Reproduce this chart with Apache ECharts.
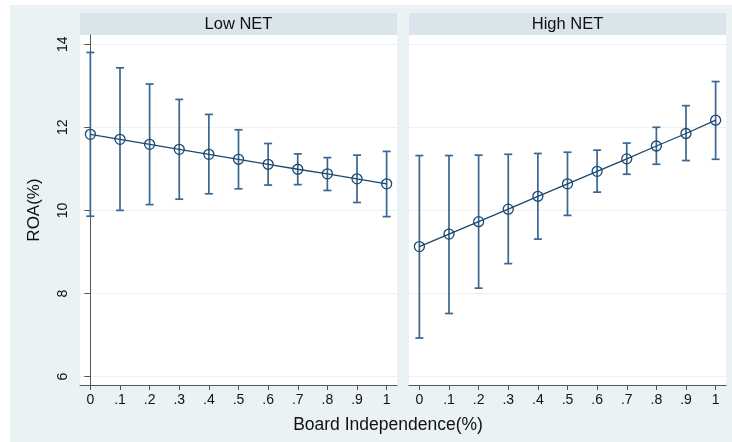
<!DOCTYPE html>
<html>
<head>
<meta charset="utf-8">
<script src="https://cdn.jsdelivr.net/npm/echarts@6/dist/echarts.min.js"></script>
<style>html,body{margin:0;padding:0;background:#fff}#c{width:732px;height:442px}</style>
</head>
<body>
<div id="c"></div>
<script>
const xVals = [0, 0.1, 0.2, 0.3, 0.4, 0.5, 0.6, 0.7, 0.8, 0.9, 1];
const xTickLabels = ['0', '.1', '.2', '.3', '.4', '.5', '.6', '.7', '.8', '.9', '1'];
const yTicks = [6, 8, 10, 12, 14];
const panelTitles = ['Low NET', 'High NET'];

const lowMean  = [11.83, 11.71, 11.59, 11.47, 11.35, 11.23, 11.11, 10.99, 10.88, 10.76, 10.64];
const lowUpper = [13.80, 13.43, 13.04, 12.67, 12.31, 11.94, 11.61, 11.36, 11.27, 11.33, 11.42];
const lowLower = [9.86, 10.00, 10.14, 10.27, 10.40, 10.52, 10.61, 10.62, 10.48, 10.19, 9.85];

const highMean  = [9.13, 9.43, 9.73, 10.03, 10.34, 10.64, 10.94, 11.24, 11.55, 11.85, 12.17];
const highUpper = [11.32, 11.32, 11.33, 11.35, 11.37, 11.40, 11.45, 11.62, 12.00, 12.52, 13.10];
const highLower = [6.93, 7.52, 8.13, 8.72, 9.31, 9.88, 10.44, 10.87, 11.11, 11.20, 11.23];

const FONT = '"Liberation Sans", Arial, Helvetica, sans-serif';
const LINE_COLOR = '#1a476f';
const BAR_COLOR = '#3a6690';
const BG = '#eaf2f3';
const STRIP = '#d9e5eb';

const chart = echarts.init(document.getElementById('c'), null, {renderer: 'canvas'});

function xAxisDef(gridIndex) {
  return {
    type: 'value', gridIndex, min: -0.035, max: 1.035,
    splitLine: {show: false},
    axisLine: {show: true, onZero: false, lineStyle: {color: '#555', width: 1}},
    axisTick: {show: true, length: 5, customValues: xVals, lineStyle: {color: '#555'}},
    axisLabel: {
      customValues: xVals, margin: 8, fontSize: 14, color: '#111', fontFamily: FONT,
      formatter: v => xTickLabels[Math.round(v * 10)]
    }
  };
}
function yAxisDef(gridIndex, showAxis) {
  return {
    type: 'value', gridIndex, min: 5.8, max: 14.22,
    name: showAxis ? 'ROA(%)' : '', nameLocation: 'middle', nameGap: 37,
    nameTextStyle: {fontSize: 17, color: '#111', fontFamily: FONT},
    splitLine: {show: true, lineStyle: {color: BG, width: 1.2}},
    axisLine: {show: showAxis, lineStyle: {color: '#555', width: 1}},
    axisTick: {show: showAxis, length: 6, customValues: yTicks, lineStyle: {color: '#555'}},
    axisLabel: {
      show: showAxis, customValues: yTicks, rotate: 90, margin: 10, fontSize: 14,
      color: '#111', fontFamily: FONT
    }
  };
}
function errorSeries(idx, lower, upper) {
  return {
    type: 'custom', xAxisIndex: idx, yAxisIndex: idx, z: 2,
    data: xVals.map((x, i) => [x, lower[i], upper[i]]),
    encode: {x: 0, y: [1, 2]},
    renderItem: function (params, api) {
      const x = api.value(0);
      const pLo = api.coord([x, api.value(1)]);
      const pHi = api.coord([x, api.value(2)]);
      const w = 4;
      const st = {stroke: BAR_COLOR, lineWidth: 1.7};
      return {
        type: 'group',
        children: [
          {type: 'line', shape: {x1: pLo[0], y1: pLo[1], x2: pHi[0], y2: pHi[1]}, style: st},
          {type: 'line', shape: {x1: pHi[0] - w, y1: pHi[1], x2: pHi[0] + w, y2: pHi[1]}, style: st},
          {type: 'line', shape: {x1: pLo[0] - w, y1: pLo[1], x2: pLo[0] + w, y2: pLo[1]}, style: st}
        ]
      };
    }
  };
}
function lineSeries(idx, mean) {
  return {
    type: 'line', xAxisIndex: idx, yAxisIndex: idx, z: 3,
    data: xVals.map((x, i) => [x, mean[i]]),
    symbol: 'circle', symbolSize: 10,
    lineStyle: {color: LINE_COLOR, width: 1.3},
    itemStyle: {color: 'rgba(0,0,0,0)', borderColor: LINE_COLOR, borderWidth: 1.3},
    emphasis: {disabled: true}
  };
}

const option = {
  backgroundColor: '#ffffff',
  animation: false,
  graphic: [
    {type: 'rect', z: -10, silent: true, shape: {x: 10, y: 5, width: 722, height: 437}, style: {fill: BG}},
    {type: 'rect', z: -5, silent: true, shape: {x: 80, y: 13, width: 317, height: 22}, style: {fill: STRIP}},
    {type: 'rect', z: -5, silent: true, shape: {x: 409, y: 13, width: 317, height: 22}, style: {fill: STRIP}},
    {type: 'text', silent: true, x: 238.5, y: 24, style: {text: panelTitles[0], fill: '#111', font: '16.5px ' + FONT, textAlign: 'center', textVerticalAlign: 'middle'}},
    {type: 'text', silent: true, x: 567.5, y: 24, style: {text: panelTitles[1], fill: '#111', font: '16.5px ' + FONT, textAlign: 'center', textVerticalAlign: 'middle'}},
    {type: 'text', silent: true, x: 388, y: 425, style: {text: 'Board Independence(%)', fill: '#111', font: '17.5px ' + FONT, textAlign: 'center', textVerticalAlign: 'middle'}}
  ],
  grid: [
    {left: 80, width: 317, top: 35, height: 350, show: true, backgroundColor: '#fff', borderWidth: 0},
    {left: 409, width: 317, top: 35, height: 350, show: true, backgroundColor: '#fff', borderWidth: 0}
  ],
  xAxis: [xAxisDef(0), xAxisDef(1)],
  yAxis: [yAxisDef(0, true), yAxisDef(1, false)],
  series: [
    errorSeries(0, lowLower, lowUpper),
    lineSeries(0, lowMean),
    errorSeries(1, highLower, highUpper),
    lineSeries(1, highMean)
  ]
};
chart.setOption(option);
</script>
</body>
</html>
